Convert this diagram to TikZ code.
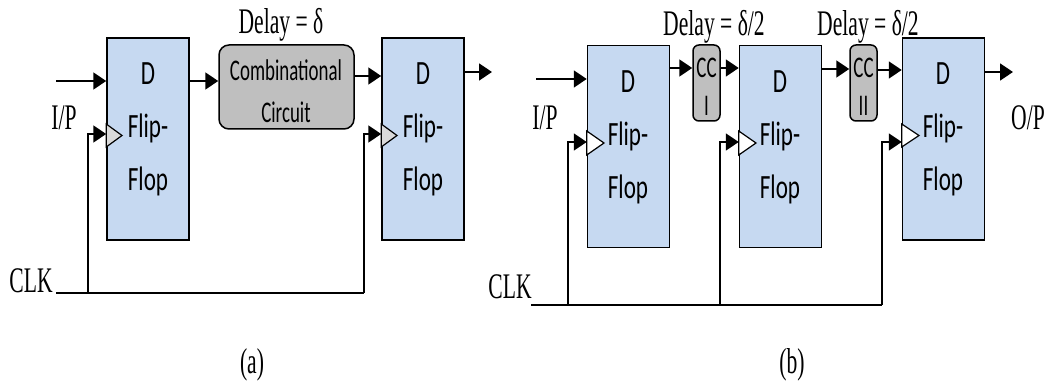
\documentclass[tikz,border=0pt]{standalone}
\usepackage{fontspec}
\setmainfont{Liberation Serif}
\newfontfamily\blockfont{Carlito}
\usetikzlibrary{arrows.meta}
\definecolor{ffblue}{HTML}{C6D9F1}
\definecolor{ccgray}{HTML}{BFBFBF}
\definecolor{clkgray}{HTML}{D9D9D9}
\newcommand{\slimblock}[1]{\scalebox{0.68}[1]{#1}}
\newcommand{\slimcomb}[1]{\scalebox{0.63}[1]{#1}}
\newcommand{\slimtag}[1]{\scalebox{0.6}[1]{#1}}
\newcommand{\fftext}{\slimblock{D}\\\slimblock{Flip-}\\\slimblock{Flop}}
\tikzstyle{block} = [rectangle, draw=black, line width=1.5pt, fill=ffblue, minimum width=82pt, minimum height=202pt, inner sep=0pt]
\tikzstyle{blocktext} = [align=center, inner sep=0pt, font=\blockfont\fontsize{34}{53}\selectfont]
\tikzstyle{comb} = [rectangle, rounded corners=10pt, draw=black, line width=1.5pt, fill=ccgray, inner sep=0pt]
\tikzstyle{smallcomb} = [comb, rounded corners=6pt, minimum width=27pt, minimum height=76pt]
\tikzstyle{combtext} = [align=center, inner sep=0pt, font=\blockfont\fontsize{30}{42}\selectfont]
\tikzstyle{smalltext} = [combtext, font=\blockfont\fontsize{30}{38}\selectfont]
\tikzstyle{tag} = [inner sep=0pt, font=\fontsize{36}{38}\selectfont]
\tikzstyle{arrow} = [line width=1.5pt,->,>={Triangle[length=13pt,width=17pt]}]
\tikzstyle{wire} = [line width=1.5pt]
\tikzstyle{clock} = [line width=1.2pt, draw=black]
\begin{document}
\begin{tikzpicture}[x=1pt, y=-1pt]
    \useasboundingbox (0,0) rectangle (1045,382);
    % Place nodes (a)
    \node [block] (ffa1) at (148,139) {};
    \node [block] (ffa2) at (423,139) {};
    \node [comb, minimum width=135pt, minimum height=84pt] (cca) at (286.5,87) {};
    \node [combtext] (ccatext) at (286,91) {\slimcomb{Combinational}\\\slimcomb{Circuit}};
    \node [blocktext] (ffa1text) at (148,129) {\fftext};
    \node [blocktext] (ffa2text) at (423,129) {\fftext};
    \node [tag] (delaya) at (281,25) {\slimtag{Delay = δ}};
    \node [tag] (ipa) at (64,118) {\slimtag{I/P}};
    \node [tag] (clka) at (31,281) {\slimtag{CLK}};
    \node [tag] (capa) at (252,365) {\slimtag{(a)}};
    \coordinate (ina) at (56,81);
    \coordinate (clkina) at (56,293);
    \coordinate (outa) at (492,72);
    \coordinate (tapa1) at (88,293);
    \coordinate (tapa2) at (364,293);

    % Place nodes (b)
    \node [block] (ffb1) at (628.5,146.5) {};
    \node [block] (ffb2) at (780.5,146.5) {};
    \node [block] (ffb3) at (943.5,139) {};
    \node [smallcomb] (ccb1) at (706.5,83) {};
    \node [smallcomb] (ccb2) at (863.5,83) {};
    \node [smalltext] (ccb1text) at (706.5,87) {\slimcomb{CC}\\\slimcomb{I}};
    \node [smalltext] (ccb2text) at (863.5,87) {\slimcomb{CC}\\\slimcomb{II}};
    \node [blocktext] (ffb1text) at (628,137) {\fftext};
    \node [blocktext] (ffb2text) at (780,137) {\fftext};
    \node [blocktext] (ffb3text) at (943,129) {\fftext};
    \node [tag] (delayb1) at (714,27) {\slimtag{Delay = δ/2}};
    \node [tag] (delayb2) at (868,27) {\slimtag{Delay = δ/2}};
    \node [tag] (ipb) at (545,118) {\slimtag{I/P}};
    \node [tag] (opb) at (1028,118) {\slimtag{O/P}};
    \node [tag] (clkb) at (510,287) {\slimtag{CLK}};
    \node [tag] (capb) at (792,365) {\slimtag{(b)}};
    \coordinate (inb) at (536,79);
    \coordinate (clkinb) at (531,305);
    \coordinate (outb) at (1013,72);
    \coordinate (tapb1) at (568,305);
    \coordinate (tapb2) at (720,305);
    \coordinate (tapb3) at (882,305);

    % Clock marks
    \draw [clock, fill=clkgray] (ffa1.west |- 0,124) -- (122,135.5) -- (ffa1.west |- 0,147) -- cycle;
    \draw [clock, fill=clkgray] (ffa2.west |- 0,124) -- (397,135.5) -- (ffa2.west |- 0,147) -- cycle;
    \draw [clock, fill=white] (ffb1.west |- 0,131) -- (604,143) -- (ffb1.west |- 0,155) -- cycle;
    \draw [clock, fill=white] (ffb2.west |- 0,131) -- (756,143) -- (ffb2.west |- 0,155) -- cycle;
    \draw [clock, fill=white] (ffb3.west |- 0,124) -- (919,135.5) -- (ffb3.west |- 0,147) -- cycle;

    % Connectors (a)
    \draw [arrow] (ina) -- (ina -| ffa1.west);
    \draw [arrow] (ffa1.east |- 0,81) -- (cca.west |- 0,81);
    \draw [arrow] (cca.east |- 0,76) -- (ffa2.west |- 0,76);
    \draw [arrow] (ffa2.east |- outa) -- (outa);
    \draw [wire] (clkina) -- (tapa2);
    \draw [arrow] (tapa1) |- (ffa1.west |- 0,134);
    \draw [arrow] (tapa2) |- (ffa2.west |- 0,134);

    % Connectors (b)
    \draw [arrow] (inb) -- (inb -| ffb1.west);
    \draw [arrow] (ffb1.east |- 0,68) -- (ccb1.west |- 0,68);
    \draw [arrow] (ccb1.east |- 0,68) -- (ffb2.west |- 0,68);
    \draw [arrow] (ffb2.east |- 0,69) -- (ccb2.west |- 0,69);
    \draw [arrow] (ccb2.east |- 0,70) -- (ffb3.west |- 0,70);
    \draw [arrow] (ffb3.east |- outb) -- (outb);
    \draw [wire] (clkinb) -- (tapb3);
    \draw [arrow] (tapb1) |- (ffb1.west |- 0,142);
    \draw [arrow] (tapb2) |- (ffb2.west |- 0,142);
    \draw [arrow] (tapb3) |- (ffb3.west |- 0,142);
\end{tikzpicture}
\end{document}
